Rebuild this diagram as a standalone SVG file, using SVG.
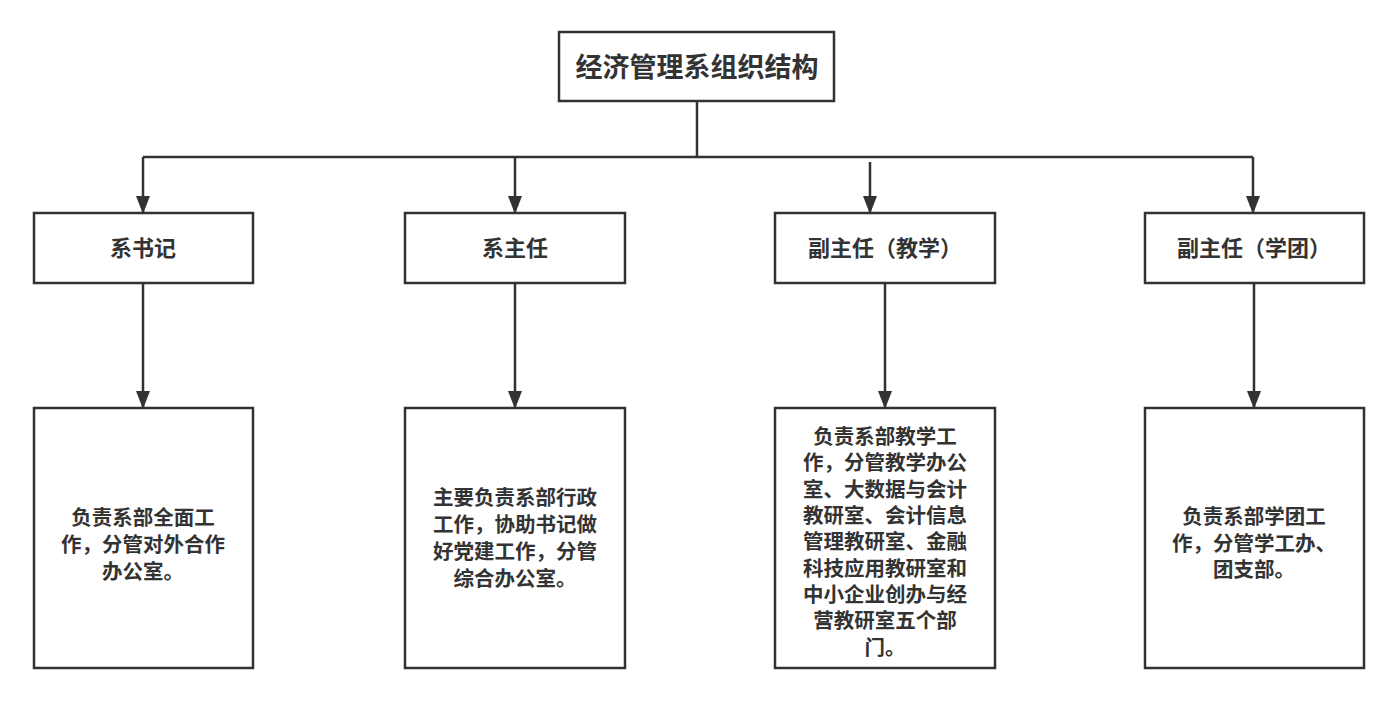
<svg xmlns="http://www.w3.org/2000/svg" width="1398" height="703" viewBox="0 0 1398 703">
<style>
.box{fill:#fff;stroke:#323232;stroke-width:2.5}
.t{font-family:"Noto Sans CJK SC","Noto Sans",sans-serif;font-weight:bold;fill:#333;text-anchor:middle}
.title{font-size:27px}
.lbl{font-size:22px}
.body{font-size:20.5px}
.c{fill:none;stroke:#323232;stroke-width:2.5}
</style>
<defs>
<marker id="arr" markerUnits="userSpaceOnUse" markerWidth="18" markerHeight="14" refX="17" refY="7" orient="auto" viewBox="0 0 18 14">
<path d="M0,0 L18,7 L0,14 Z" fill="#323232"/>
</marker>
</defs>
<rect width="1398" height="703" fill="#fff"/>
<g id="connectors">
<path class="c" d="M697,101 V157 M143,157 H1253"/>
<path class="c" d="M143,157 V213" marker-end="url(#arr)"/>
<path class="c" d="M515,157 V213" marker-end="url(#arr)"/>
<path class="c" d="M870,162 V213" marker-end="url(#arr)"/>
<path class="c" d="M1253,157 V213" marker-end="url(#arr)"/>
<path class="c" d="M143,283 V408" marker-end="url(#arr)"/>
<path class="c" d="M515,283 V408" marker-end="url(#arr)"/>
<path class="c" d="M885,283 V408" marker-end="url(#arr)"/>
<path class="c" d="M1254,283 V408" marker-end="url(#arr)"/>
</g>
<g id="root">
<rect class="box" x="559" y="32" width="275" height="69"/>
<text class="t title" x="697" y="77">经济管理系组织结构</text>
</g>
<g id="n1">
<rect class="box" x="34" y="213" width="219" height="70"/>
<text class="t lbl" x="143" y="256">系书记</text>
</g>
<g id="n2">
<rect class="box" x="405" y="213" width="220" height="70"/>
<text class="t lbl" x="515" y="256">系主任</text>
</g>
<g id="n3">
<rect class="box" x="775" y="213" width="220" height="70"/>
<text class="t lbl" x="885" y="256">副主任（教学）</text>
</g>
<g id="n4">
<rect class="box" x="1145" y="213" width="219" height="70"/>
<text class="t lbl" x="1254" y="256">副主任（学团）</text>
</g>
<g id="d1">
<rect class="box" x="34" y="408" width="219" height="260"/>
<text class="t body" x="143"><tspan x="143" y="525">负责系部全面工</tspan><tspan x="143" y="552">作，分管对外合作</tspan><tspan x="143" y="579">办公室。</tspan></text>
</g>
<g id="d2">
<rect class="box" x="405" y="408" width="220" height="260"/>
<text class="t body" x="515"><tspan x="515" y="505">主要负责系部行政</tspan><tspan x="515" y="532">工作，协助书记做</tspan><tspan x="515" y="559">好党建工作，分管</tspan><tspan x="515" y="586">综合办公室。</tspan></text>
</g>
<g id="d3">
<rect class="box" x="775" y="408" width="220" height="260"/>
<text class="t body" x="885"><tspan x="885" y="444">负责系部教学工</tspan><tspan x="885" y="470">作，分管教学办公</tspan><tspan x="885" y="497">室、大数据与会计</tspan><tspan x="885" y="523">教研室、会计信息</tspan><tspan x="885" y="549">管理教研室、金融</tspan><tspan x="885" y="576">科技应用教研室和</tspan><tspan x="885" y="602">中小企业创办与经</tspan><tspan x="885" y="628">营教研室五个部</tspan><tspan x="885" y="655">门。</tspan></text>
</g>
<g id="d4">
<rect class="box" x="1145" y="408" width="219" height="260"/>
<text class="t body" x="1254"><tspan x="1254" y="524">负责系部学团工</tspan><tspan x="1254" y="551">作，分管学工办、</tspan><tspan x="1254" y="577">团支部。</tspan></text>
</g>
</svg>
